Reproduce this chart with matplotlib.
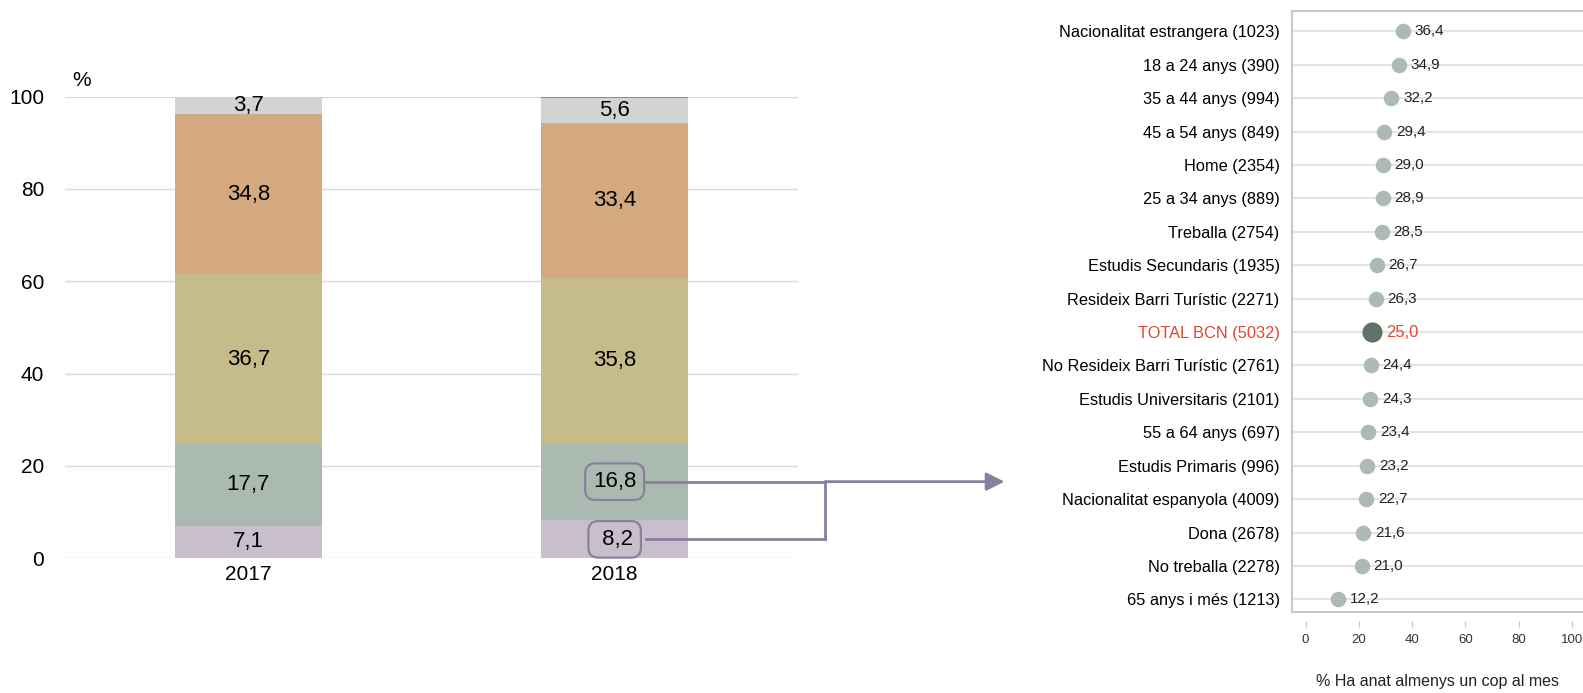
import matplotlib.pyplot as plt
import numpy as np

plt.rcParams['font.family'] = ['Liberation Sans', 'DejaVu Sans']

# left chart: stacked shares per year
years = ['2017', '2018']
seg_values = [
    [7.1, 8.2],     # bottom
    [17.7, 16.8],
    [36.7, 35.8],
    [34.8, 33.4],
    [3.7, 5.6],
    [0.0, 0.2],     # thin top line
]
seg_colors = ['#c9bfcc', '#abbab1', '#c6bc89', '#d4a97f', '#d3d3d3', '#8c8c8c']
seg_show = [True, True, True, True, True, False]

# right chart: dot plot by group
groups = ['Nacionalitat estrangera (1023)', '18 a 24 anys (390)', '35 a 44 anys (994)',
          '45 a 54 anys (849)', 'Home (2354)', '25 a 34 anys (889)', 'Treballa (2754)',
          'Estudis Secundaris (1935)', 'Resideix Barri Turístic (2271)', 'TOTAL BCN (5032)',
          'No Resideix Barri Turístic (2761)', 'Estudis Universitaris (2101)',
          '55 a 64 anys (697)', 'Estudis Primaris (996)', 'Nacionalitat espanyola (4009)',
          'Dona (2678)', 'No treballa (2278)', '65 anys i més (1213)']
group_values = [36.4, 34.9, 32.2, 29.4, 29.0, 28.9, 28.5, 26.7, 26.3, 25.0,
                24.4, 24.3, 23.4, 23.2, 22.7, 21.6, 21.0, 12.2]
total_label = 'TOTAL BCN (5032)'

def fmt(v):
    return f"{v:.1f}".replace('.', ',')

fig = plt.figure(figsize=(15.83, 6.93), dpi=100)

# ---- left: stacked bars
ax = fig.add_axes([0.0411, 0.1944, 0.4629, 0.6661])
x = np.arange(len(years))
bottom = np.zeros(len(years))
box_color = '#8b7f9e'
label_pos = {}
for k, (vals, col) in enumerate(zip(seg_values, seg_colors)):
    vals = np.array(vals)
    ax.bar(x, vals, 0.4, bottom=bottom, color=col, zorder=2)
    if seg_show[k]:
        for i in range(len(years)):
            yc = bottom[i] + vals[i] / 2
            boxed = (i == 1 and k < 2)
            txt = fmt(vals[i])
            if boxed:
                txt = f"{vals[i]:4.1f}".replace('.', ',')
                ax.text(x[i], yc, txt, ha='center', va='center', fontsize=16, zorder=4,
                        bbox=dict(boxstyle='round,pad=0.35,rounding_size=0.45', fc='none',
                                  ec=box_color, lw=1.6))
                label_pos[k] = yc
            else:
                ax.text(x[i], yc, txt, ha='center', va='center', fontsize=16, zorder=4)
    bottom = bottom + vals

ax.set_xlim(-0.5, 1.5)
ax.set_ylim(0, 100)
ax.set_yticks(range(0, 101, 20))
ax.set_xticks(x)
ax.set_xticklabels(years)
ax.tick_params(axis='both', length=0, labelsize=15)
ax.tick_params(axis='y', pad=15)
ax.tick_params(axis='x', pad=5)
ax.grid(axis='y', color='#d9d9d9', lw=1, zorder=0)
for s in ax.spines.values():
    s.set_visible(False)
ax.text(0.01, 1.035, '%', transform=ax.transAxes, fontsize=15, ha='left', va='center')

# connector lines from the boxed 2018 labels to the dot plot
xr, xj, xt = 1.085, 1.574, 2.064
for k in (0, 1):
    ax.plot([xr, xj], [label_pos[k], label_pos[k]], color=box_color, lw=2,
            clip_on=False, zorder=3)
ax.plot([xj, xj], [label_pos[0], label_pos[1]], color=box_color, lw=2,
        clip_on=False, zorder=3)
ax.annotate('', xy=(xt, label_pos[1]), xytext=(xj, label_pos[1]),
            arrowprops=dict(arrowstyle='-|>,head_length=1.1,head_width=0.55',
                            color=box_color, lw=2, shrinkA=0, shrinkB=0),
            annotation_clip=False)

# ---- right: dot plot
ax2 = fig.add_axes([0.8162, 0.1173, 0.1838, 0.8673])
y = np.arange(len(groups))
for yi in y:
    ax2.axhline(yi, color='#e3e3e3', lw=1.5, zorder=0)
for yi, v, g in zip(y, group_values, groups):
    is_tot = g == total_label
    ax2.scatter(v, yi, s=210 if is_tot else 125, color='#627269' if is_tot else '#adbab3',
                zorder=3, linewidths=0)
    ax2.annotate(fmt(v), (v, yi), xytext=(10 if is_tot else 8.5, 0), textcoords='offset points',
                 va='center', ha='left', fontsize=12 if is_tot else 11,
                 color='#e2472f' if is_tot else '#222222', zorder=4)

ax2.set_xlim(-5.1, 104.1)
ax2.set_ylim(len(groups) - 1 + 0.37, -0.62)
ax2.set_yticks(y)
ax2.set_yticklabels(groups, fontsize=11.8)
for lbl in ax2.get_yticklabels():
    if lbl.get_text() == total_label:
        lbl.set_color('#e2472f')
ax2.tick_params(axis='y', length=0, pad=9)
ax2.set_xticks(range(0, 101, 20))
ax2.tick_params(axis='x', length=4, color='#c8c8c8', labelsize=9.5, pad=5, labelcolor='#333333')
ax2.spines['bottom'].set_position(('outward', 7))
ax2.spines['bottom'].set_visible(False)
ax2.spines['right'].set_visible(False)
for s in ('left', 'top'):
    ax2.spines[s].set_color('#c8c8c8')
    ax2.spines[s].set_linewidth(1.5)
ax2.plot([0, 1], [0, 0], transform=ax2.transAxes, color='#c8c8c8', lw=1.5, clip_on=False)
ax2.set_xlabel('% Ha anat almenys un cop al mes', fontsize=11.5, labelpad=20, color='#222222')

fig.savefig('out.png', dpi=100)
